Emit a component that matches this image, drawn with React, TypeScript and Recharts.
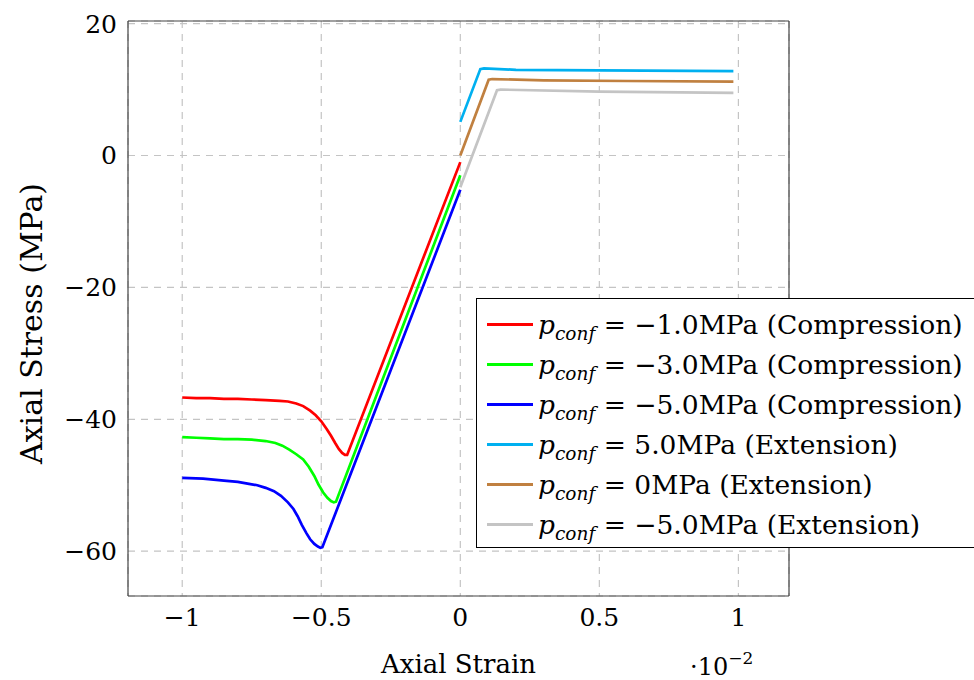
import React from 'react';
import { LineChart, Line, XAxis, YAxis, CartesianGrid, Legend } from 'recharts';

const FONT = "'DejaVu Serif', serif";

// axis setup (strain in 1e-2, stress in MPa)
const strainRange = [-1.195, 1.182];
const stressRange = [-66.8, 20.4];
const strainTicks = [-1, -0.5, 0, 0.5, 1];
const stressTicks = [-60, -40, -20, 0, 20];

// compression, p = -1.0 MPa
const comp1Strain = [-1.0, -0.95, -0.9, -0.85, -0.8, -0.75, -0.7, -0.65, -0.62, -0.59, -0.565, -0.54, -0.52, -0.5, -0.48, -0.465, -0.45, -0.437, -0.425, -0.415, -0.407, 0];
const comp1Stress = [-36.7, -36.8, -36.8, -36.9, -36.9, -37.0, -37.1, -37.2, -37.3, -37.6, -38.0, -38.7, -39.4, -40.3, -41.5, -42.5, -43.6, -44.5, -45.1, -45.4, -45.4, -1.0];

// compression, p = -3.0 MPa
const comp3Strain = [-1.0, -0.95, -0.9, -0.85, -0.8, -0.75, -0.7, -0.665, -0.64, -0.615, -0.59, -0.565, -0.545, -0.525, -0.51, -0.493, -0.478, -0.465, -0.455, -0.447, 0];
const comp3Stress = [-42.7, -42.8, -42.9, -43.0, -43.0, -43.1, -43.3, -43.6, -44.0, -44.6, -45.3, -46.1, -47.2, -48.6, -49.9, -51.1, -51.9, -52.4, -52.6, -52.5, -3.0];

// compression, p = -5.0 MPa
const comp5Strain = [-1.0, -0.925, -0.85, -0.8, -0.76, -0.73, -0.7, -0.67, -0.645, -0.62, -0.6, -0.585, -0.57, -0.553, -0.54, -0.525, -0.512, -0.503, -0.496, 0];
const comp5Stress = [-48.9, -49.0, -49.3, -49.5, -49.8, -50.0, -50.4, -50.9, -51.6, -52.6, -53.6, -54.7, -56.0, -57.3, -58.2, -58.9, -59.3, -59.5, -59.4, -5.2];

// extension, p = 5.0 MPa
const ext5Strain = [0, 0.072, 0.085, 0.2, 0.5, 0.982];
const ext5Stress = [5.1, 13.1, 13.2, 13.0, 12.9, 12.8];

// extension, p = 0 MPa
const ext0Strain = [0, 0.102, 0.115, 0.3, 0.6, 0.982];
const ext0Stress = [0, 11.5, 11.6, 11.4, 11.3, 11.2];

// extension, p = -5.0 MPa
const extm5Strain = [0, 0.132, 0.145, 0.5, 0.982];
const extm5Stress = [-4.8, 9.9, 10.0, 9.7, 9.5];

const seriesNames = [
  '\u22121.0MPa (Compression)',
  '\u22123.0MPa (Compression)',
  '\u22125.0MPa (Compression)',
  '5.0MPa (Extension)',
  '0MPa (Extension)',
  '\u22125.0MPa (Extension)',
];
const seriesColors = ['#ff0000', '#00ff00', '#0000ff', '#00b0f0', '#c08040', '#c4c4c4'];

const zip = (xs: number[], ys: number[]) => xs.map((x, i) => ({ strain: x, stress: ys[i] }));

const seriesData = [
  zip(comp1Strain, comp1Stress),
  zip(comp3Strain, comp3Stress),
  zip(comp5Strain, comp5Stress),
  zip(ext5Strain, ext5Stress),
  zip(ext0Strain, ext0Stress),
  zip(extm5Strain, extm5Stress),
];

const fmt = (v: number) => String(v).replace('-', '\u2212');

const frame = { stroke: '#444', strokeWidth: 1.2 };

const LegendBox = ({ payload }: any) => (
  <div
    style={{
      width: 520,
      height: 250,
      boxSizing: 'border-box',
      border: '1px solid #000',
      background: '#fff',
      paddingTop: 5,
      fontFamily: FONT,
      fontSize: 26.5,
      color: '#000',
    }}
  >
    {(payload || []).map((p: any) => (
      <div key={p.value} style={{ height: 40, display: 'flex', alignItems: 'center', whiteSpace: 'nowrap' }}>
        <span style={{ display: 'inline-block', width: 46, height: 3, background: p.color, marginLeft: 10, marginRight: 5 }} />
        <span>
          <i>p</i>
          <i style={{ fontSize: 18.5, position: 'relative', top: 6 }}>conf</i> = {p.value}
        </span>
      </div>
    ))}
  </div>
);

const XLabel = ({ viewBox }: any) => (
  <g fontFamily={FONT} fill="#000">
    <text x={viewBox.x + viewBox.width / 2} y={viewBox.y + 77} textAnchor="middle" fontSize={26}>
      Axial Strain
    </text>
    <text x={viewBox.x + viewBox.width - 99} y={viewBox.y + 79} fontSize={24}>
      {'\u00b710'}
      <tspan dy={-11} fontSize={17}>
        {'\u22122'}
      </tspan>
    </text>
  </g>
);

const YLabel = ({ viewBox }: any) => {
  const cx = viewBox.x + 42;
  const cy = viewBox.y + viewBox.height / 2 + 15;
  return (
    <text x={cx} y={cy} transform={`rotate(-90 ${cx} ${cy})`} textAnchor="middle" fontSize={30} fontFamily={FONT} fill="#000">
      Axial Stress (MPa)
    </text>
  );
};

const tickStyle = { fill: '#000', fontSize: 25, fontFamily: FONT };

const StressStrainChart = () => {
  return (
    <div style={{ position: 'absolute', left: 0, top: 0, width: 974, height: 680, overflow: 'hidden', background: '#fff' }}>
      <LineChart width={974} height={680} margin={{ top: 21, right: 185, bottom: 0, left: 0 }}>
        <CartesianGrid stroke="#c4c4c4" strokeDasharray="7 6" strokeWidth={1.2} />
        <XAxis
          type="number"
          dataKey="strain"
          domain={strainRange}
          ticks={strainTicks}
          allowDataOverflow
          height={84}
          tickLine={false}
          tickSize={6}
          tickMargin={6}
          tickFormatter={fmt}
          tick={tickStyle}
          axisLine={frame}
          label={{ content: XLabel }}
        />
        <XAxis xAxisId="bt" type="number" domain={strainRange} ticks={strainTicks} allowDataOverflow mirror tick={false} tickSize={6} tickLine={frame} axisLine={false} />
        <XAxis xAxisId="tp" orientation="top" type="number" domain={strainRange} ticks={strainTicks} allowDataOverflow mirror tick={false} tickSize={6} tickLine={frame} axisLine={frame} />
        <YAxis
          type="number"
          domain={stressRange}
          ticks={stressTicks}
          allowDataOverflow
          width={128}
          tickLine={false}
          tickSize={6}
          tickMargin={5}
          tickFormatter={fmt}
          tick={tickStyle}
          axisLine={frame}
          label={{ content: YLabel }}
        />
        <YAxis yAxisId="lt" type="number" domain={stressRange} ticks={stressTicks} allowDataOverflow mirror tick={false} tickSize={6} tickLine={frame} axisLine={false} />
        <YAxis yAxisId="rt" orientation="right" type="number" domain={stressRange} ticks={stressTicks} allowDataOverflow mirror tick={false} tickSize={6} tickLine={frame} axisLine={frame} />
        <Legend
          layout="vertical"
          align="center"
          verticalAlign="middle"
          wrapperStyle={{ left: 476, top: 298, width: 520 }}
          itemSorter={(item: any) => seriesNames.indexOf(item.value)}
          content={LegendBox}
        />
        {seriesNames.map((name, i) => (
          <Line
            key={name}
            data={seriesData[i]}
            dataKey="stress"
            name={name}
            type="linear"
            stroke={seriesColors[i]}
            strokeWidth={2.7}
            dot={false}
            isAnimationActive={false}
          />
        ))}
      </LineChart>
    </div>
  );
};

export default function App() {
  return <StressStrainChart />;
}
